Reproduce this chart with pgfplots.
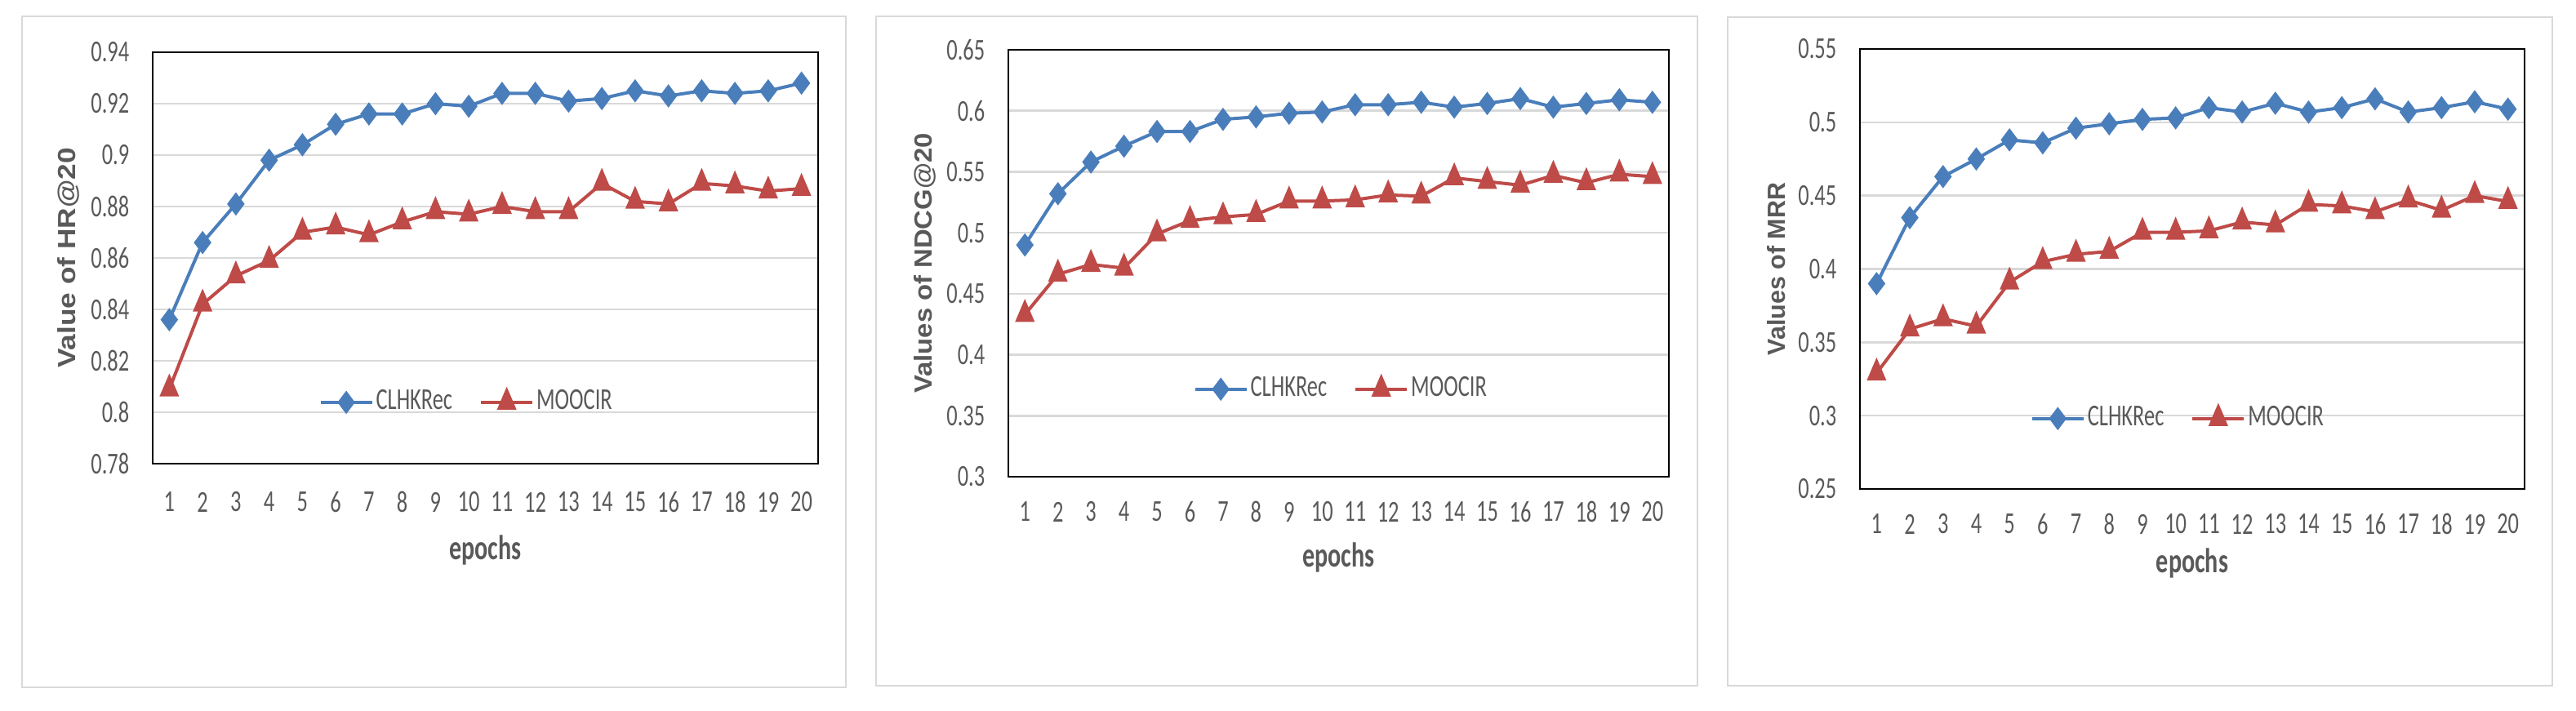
\documentclass[border=0pt]{standalone}
\usepackage{pgfplots}
\pgfplotsset{compat=1.18}
\usepackage{graphicx}
\usepackage{fontspec}
\setmainfont{Carlito}
\newfontfamily\lsans{Liberation Sans}
\definecolor{sblue}{HTML}{4A7EBB}
\definecolor{sred}{HTML}{BE4B48}
\definecolor{gridgray}{HTML}{D9D9D9}
\definecolor{labelgray}{HTML}{595959}
\definecolor{framegray}{HTML}{D9D9D9}
\pgfplotsset{
  panel/.style={
    scale only axis, anchor=south west,
    xmin=0.5, xmax=20.5, xtick={1,...,20},
    major tick length=0pt,
    axis line style={black, line width=0.6pt},
    ymajorgrids, grid style={gridgray, line width=0.65pt},
    tick label style={text=labelgray, font=\fontsize{9.3}{10}\selectfont},
    xticklabel={\scalebox{0.71}[1]{\pgfmathprintnumber[assume math mode=true]{\tick}}},
    yticklabel={\scalebox{0.71}[1]{\pgfmathprintnumber[fixed,precision=2,assume math mode=true]{\tick}}},
    yticklabel style={anchor=east, inner sep=0pt, xshift=-7pt},
    xticklabel style={anchor=center, inner sep=0pt},
    xlabel style={at={(axis description cs:0.5,0)}, anchor=base, text=labelgray, font=\fontsize{10.6}{12}\selectfont\bfseries},
    ylabel style={at={(axis description cs:-0.126,0.5)}, anchor=center, text=labelgray, font=\fontsize{7.6}{8}\selectfont\lsans\bfseries},
    xlabel={\scalebox{0.71}[1]{epochs}},
    legend columns=2,
    legend style={draw=none, fill=none, inner sep=0pt, anchor=center,
      font=\fontsize{9.3}{10}\selectfont, text=labelgray,
      nodes={inner sep=0.75pt},
      /tikz/every even column/.append style={column sep=7.5pt}},
    legend image code/.code={\draw[mark repeat=2,mark phase=2] plot coordinates {(0pt,0pt) (7.875pt,0pt) (15.75pt,0pt)};},
  },
  sA/.style={sblue, line width=1pt, mark=diamond*, mark size=2.75pt, mark options={solid, fill=sblue, draw=sblue}},
  sB/.style={sred, line width=1pt, mark=triangle*, mark size=2.6pt, mark options={solid, fill=sred, draw=sred, yscale=1.35}},
}
\begin{document}
\begin{tikzpicture}
\path[use as bounding box] (0pt,0pt) rectangle (788.75pt,217.5pt);
\draw[framegray, line width=0.6pt] (6.75pt,7pt) rectangle (259pt,212.5pt);
\draw[framegray, line width=0.6pt] (268.25pt,7.5pt) rectangle (519.75pt,212.5pt);
\draw[framegray, line width=0.6pt] (529pt,7.5pt) rectangle (781.5pt,212.25pt);

% Panel 1: HR@20
\begin{axis}[panel, at={(46.75pt,75.5pt)}, width=203.75pt, height=126pt,
  ymin=0.78, ymax=0.94, ytick={0.78,0.80,0.82,0.84,0.86,0.88,0.90,0.92,0.94},
  xticklabel style={yshift=-11.75pt},
  xlabel style={yshift=-29.25pt},
  ylabel={\scalebox{1.16}[1]{Value of HR@20}},
  legend style={at={(axis description cs:0.472,0.149)}}]
\addplot[sA] coordinates {(1,0.836)(2,0.866)(3,0.881)(4,0.898)(5,0.904)(6,0.912)(7,0.916)(8,0.916)(9,0.920)(10,0.919)(11,0.924)(12,0.924)(13,0.921)(14,0.922)(15,0.925)(16,0.923)(17,0.925)(18,0.924)(19,0.925)(20,0.928)};
\addlegendentry{\scalebox{0.71}[1]{CLHKRec}}
\addplot[sB] coordinates {(1,0.809)(2,0.842)(3,0.853)(4,0.859)(5,0.870)(6,0.872)(7,0.869)(8,0.874)(9,0.878)(10,0.877)(11,0.880)(12,0.878)(13,0.878)(14,0.889)(15,0.882)(16,0.881)(17,0.889)(18,0.888)(19,0.886)(20,0.887)};
\addlegendentry{\scalebox{0.71}[1]{MOOCIR}}
\end{axis}

% Panel 2: NDCG@20
\begin{axis}[panel, at={(308.75pt,71.5pt)}, width=202.25pt, height=130.75pt,
  ymin=0.3, ymax=0.65, ytick={0.30,0.35,0.40,0.45,0.50,0.55,0.60,0.65},
  xticklabel style={yshift=-10.75pt},
  xlabel style={yshift=-27.5pt},
  ylabel={\scalebox{1.08}[1]{Values of NDCG@20}},
  legend style={at={(axis description cs:0.504,0.205)}}]
\addplot[sA] coordinates {(1,0.490)(2,0.532)(3,0.558)(4,0.571)(5,0.583)(6,0.583)(7,0.593)(8,0.595)(9,0.598)(10,0.599)(11,0.605)(12,0.605)(13,0.607)(14,0.603)(15,0.606)(16,0.610)(17,0.603)(18,0.606)(19,0.609)(20,0.607)};
\addlegendentry{\scalebox{0.71}[1]{CLHKRec}}
\addplot[sB] coordinates {(1,0.433)(2,0.466)(3,0.474)(4,0.471)(5,0.499)(6,0.510)(7,0.513)(8,0.515)(9,0.526)(10,0.526)(11,0.527)(12,0.531)(13,0.530)(14,0.545)(15,0.542)(16,0.539)(17,0.547)(18,0.541)(19,0.548)(20,0.546)};
\addlegendentry{\scalebox{0.71}[1]{MOOCIR}}
\end{axis}

% Panel 3: MRR
\begin{axis}[panel, at={(569.5pt,67.75pt)}, width=203.5pt, height=134.75pt,
  ymin=0.25, ymax=0.55, ytick={0.25,0.30,0.35,0.40,0.45,0.50,0.55},
  xticklabel style={yshift=-10.75pt},
  xlabel style={yshift=-25.5pt},
  ylabel={\scalebox{1.0}[1]{Values of MRR}},
  legend style={at={(axis description cs:0.479,0.160)}}]
\addplot[sA] coordinates {(1,0.390)(2,0.435)(3,0.463)(4,0.475)(5,0.488)(6,0.486)(7,0.496)(8,0.499)(9,0.502)(10,0.503)(11,0.510)(12,0.507)(13,0.513)(14,0.507)(15,0.510)(16,0.516)(17,0.507)(18,0.510)(19,0.514)(20,0.509)};
\addlegendentry{\scalebox{0.71}[1]{CLHKRec}}
\addplot[sB] coordinates {(1,0.329)(2,0.359)(3,0.366)(4,0.361)(5,0.391)(6,0.405)(7,0.410)(8,0.412)(9,0.425)(10,0.425)(11,0.426)(12,0.432)(13,0.430)(14,0.444)(15,0.443)(16,0.439)(17,0.447)(18,0.440)(19,0.450)(20,0.446)};
\addlegendentry{\scalebox{0.71}[1]{MOOCIR}}
\end{axis}
\end{tikzpicture}
\end{document}
